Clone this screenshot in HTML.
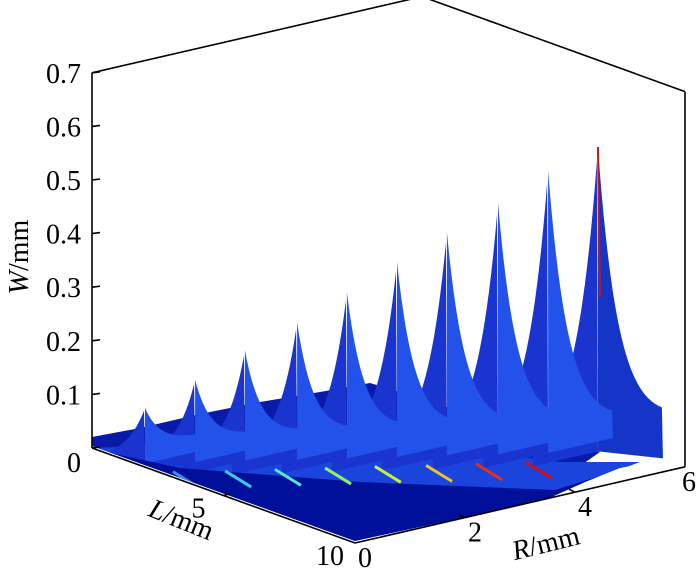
<!DOCTYPE html>
<html><head><meta charset="utf-8"><style>
html,body{margin:0;padding:0;background:#fff;}
svg{display:block;font-family:"Liberation Serif",serif;}
</style></head><body>
<svg id="chart" width="700" height="568" viewBox="0 0 700 568" xmlns="http://www.w3.org/2000/svg">
<defs><clipPath id="clipS"><polygon points="92,0 92,446 355,541 545,500 585,482 620,468 665,460 686,460 686,0"/></clipPath></defs>
<g id="surface" clip-path="url(#clipS)"></g>
<g id="axes"></g>
</svg>
<script>
// data
const peakR = [0.6, 1.2, 1.8, 2.4, 3.0, 3.6, 4.2, 4.8, 5.4, 6.0];
const peakL = [0.76, 1.41, 2.05, 2.78, 3.42, 4.07, 4.71, 5.4, 6.05, 6.69];
const peakW = [0.074, 0.124, 0.176, 0.227, 0.28, 0.334, 0.387, 0.439, 0.497, 0.538];
const streakColor = ['none','none','#3a90f0','#40c8f0','#50e8d0','#90f070','#c8f040','#f0c030','#e83018','#d01010'];
const wTicks = [0, 0.1, 0.2, 0.3, 0.4, 0.5, 0.6, 0.7];
const wTickLabels = ['0','0.1','0.2','0.3','0.4','0.5','0.6','0.7'];
const lTicks = [0, 5, 10];
const rTicks = [0, 2, 4, 6];

const NS = 'http://www.w3.org/2000/svg';
function px(R, L, W){ return 92 + 26.3*L + 55*R; }
function py(R, L, W){ return 448 + 9.5*L - 12.7*R - 536*W; }
function mk(tag, attrs, parent){
  const e = document.createElementNS(NS, tag);
  for (const k in attrs) e.setAttribute(k, attrs[k]);
  parent.appendChild(e); return e;
}
const surf = document.getElementById('surface');
const axes = document.getElementById('axes');

let plateau = mk('polygon', {points:'92,437 140,428 200,414 260,402 320,392 370,383 420,398 480,418 560,440 600,452 560,480 355,540 92,448', fill:'#0a1aa8'}, surf);


let floor = mk('polygon', {points:'92,448 150,446 300,440 450,448 560,462 640,462 560,492 355,541 92,449', fill:'#1a44dc'}, surf);



for (let k = peakR.length - 1; k >= 0; k--) {
  const tx = px(peakR[k], peakL[k], peakW[k]);
  const ty = py(peakR[k], peakL[k], peakW[k]);
  const by = py(peakR[k], peakL[k], 0);
  const H = by - ty;
  const w = 15 + H * 0.02;
  const g = mk('g', {}, surf);
  
  
  let left = [], right = [];
  const ext = 65;
  for (let d = -ext; d <= 0; d += 2) {
    const yb = by - 0.23*d;
    left.push((tx+d).toFixed(1) + ',' + (yb - H*Math.exp(-Math.abs(d)/w)).toFixed(1));
  }
  for (let d = 0; d <= ext; d += 2) {
    const yb = by - 0.23*d;
    right.push((tx+d).toFixed(1) + ',' + (yb - H*Math.exp(-Math.abs(d)/w)).toFixed(1));
  }
  const lp = mk('polygon', {points: left.join(' ') + ` ${tx},${by+16} ${tx-ext},${by+0.23*ext+16}`, fill:'#1a34d0'}, g);
  
  
  const rp = mk('polygon', {points: right.join(' ') + ` ${tx+ext},${by-0.23*ext+(k===9?38:16)} ${tx},${by+16}`, fill: k===9 ? '#1535c8' : '#2352ea'}, g);
  
  
  if (k === 9) {
    const red = mk('line', {x1:tx, y1:ty, x2:tx+2, y2:ty+150, stroke:'#c01818', 'stroke-width':2}, g);
    
    
  }
}
let band = mk('polygon', {points:'92,449 180,468 360,482 555,490 600,476 560,496 355,543 92,449', fill:'#00109a'}, surf);


for (let k = 0; k < peakR.length; k++) {
  if (streakColor[k] === 'none') continue;
  const tx = px(peakR[k], peakL[k], peakW[k]);
  const by = py(peakR[k], peakL[k], 0);
  const sx = tx - 72, sy = by + 27;
  const sl = mk('line', {x1:sx, y1:sy, x2:sx+26, y2:sy+16, stroke:streakColor[k], 'stroke-width':3}, surf);
  
  
}

function line(x1,y1,x2,y2,name){
  const l = mk('line', {x1,y1,x2,y2,stroke:'#000','stroke-width':1.6}, axes);
  
  
}
line(px(0,0,0),py(0,0,0),px(0,0,0.7),py(0,0,0.7),'w-axis');
line(px(0,0,0.7),py(0,0,0.7),px(6,0,0.7),py(6,0,0.7),'box-top-back-left');
line(px(6,0,0.7),py(6,0,0.7),px(6,10,0.7),py(6,10,0.7),'box-top-back-right');
line(px(6,10,0.7),py(6,10,0.7),px(6,10,0),py(6,10,0),'box-right-vertical');
line(px(0,0,0),py(0,0,0),px(0,10,0),py(0,10,0),'l-axis');
line(px(0,10,0),py(0,10,0),px(6,10,0),py(6,10,0),'r-axis');

function text(x,y,str,name,extra){
  const t = mk('text', Object.assign({x,y,'font-size':28,fill:'#000'}, extra||{}), axes);
  t.textContent = str;
  
  
  return t;
}
wTicks.forEach((w,i)=>{
  const x = px(0,0,w), y = py(0,0,w);
  line(x,y,x+8,y-1,'w-tick-'+i);
  text(81, y + (i===0 ? 24 : 10), wTickLabels[i], 'w-tick-label-'+i, {'text-anchor':'end'});
});
lTicks.forEach((l,i)=>{
  const x = px(0,l,0), y = py(0,l,0);
  if (l===5) line(x,y,x+7,y-2,'l-tick-'+i);
  if (l>0) text(x-25, y+22, String(l), 'l-tick-label-'+i, {'text-anchor':'middle'});
});
rTicks.forEach((r,i)=>{
  const x = px(r,10,0), y = py(r,10,0);
  if (r>0 && r<6) line(x,y,x-6,y-3,'r-tick-'+i);
  text(r===6 ? x+4 : x+10, y+24, String(r), 'r-tick-label-'+i, {'text-anchor':'middle'});
});
const wt = text(0,0,'','w-axis-title',{transform:'translate(28,257) rotate(-90)','text-anchor':'middle'});
wt.innerHTML = '<tspan font-style="italic">W</tspan>/mm';
const lt = text(0,0,'','l-axis-title',{transform:'translate(178,528) rotate(22)','text-anchor':'middle'});
lt.innerHTML = '<tspan font-style="italic">L</tspan>/mm';
const rt = text(0,0,'','r-axis-title',{transform:'translate(548,552) rotate(-14)','text-anchor':'middle'});
rt.innerHTML = '<tspan font-style="italic">R</tspan>/mm';
</script>
</body></html>
